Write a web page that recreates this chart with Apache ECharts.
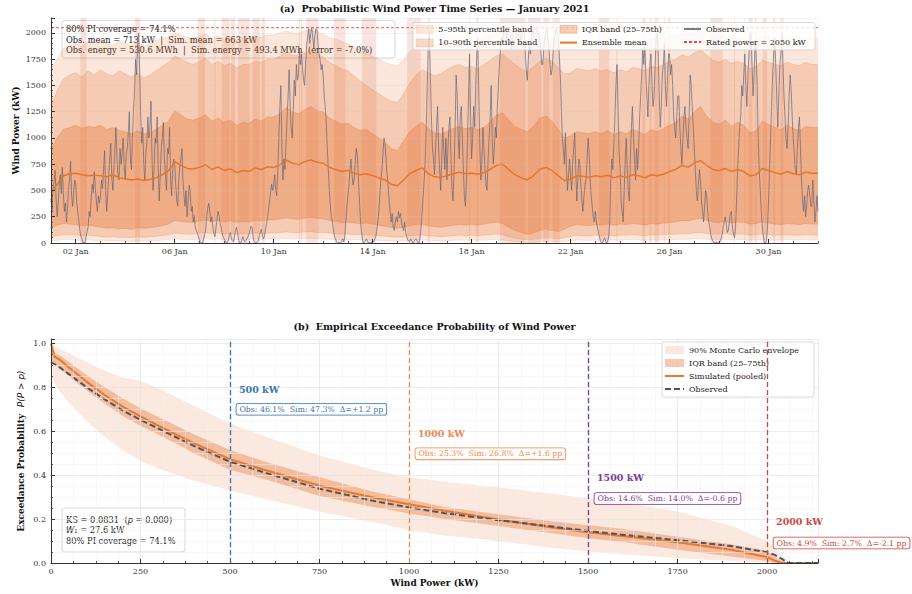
<!DOCTYPE html>
<html>
<head>
<meta charset="utf-8">
<title>Wind power – January 2021</title>
<script src="https://cdn.jsdelivr.net/npm/echarts@6/dist/echarts.min.js"></script>
<style>
  html, body { margin: 0; padding: 0; background: #ffffff; }
  #chart { width: 912px; height: 594px; }
</style>
</head>
<body>
<div id="chart"></div>
<script>
// ---------------- panel (a): January 2021 time series ----------------
const RATED_KW = 2050;
const POWER_AXIS_MAX = RATED_KW * 1.045;
const MONTH_DAYS = 31;
const OBS_STEP_H = 1;    // observed power, hourly
const BAND_STEP_H = 6;   // ensemble quantiles every 6 h

const dateTickDays = [1, 5, 9, 13, 17, 21, 25, 29];
const dateTickLabels = ['02 Jan', '06 Jan', '10 Jan', '14 Jan', '18 Jan', '22 Jan', '26 Jan', '30 Jan'];

// one row per day, 24 hourly values (kW); last entry is 1 Feb 00:00
const observedKw = [
  420, 310, 520, 580, 690, 400, 250, 380, 560, 650, 470, 720, 480, 300, 380, 200, 330, 520, 600, 780, 450, 350, 480, 600,
  560, 380, 290, 210, 120, 60, 40, 0, 10, 0, 60, 110, 150, 300, 250, 420, 560, 480, 680, 520, 400, 300, 450, 380,
  450, 600, 520, 700, 880, 500, 300, 450, 650, 800, 950, 620, 500, 700, 900, 1100, 800, 650, 600, 900, 750, 850, 1000, 720,
  600, 850, 900, 1050, 1250, 800, 700, 1000, 1250, 1450, 1750, 1600, 1900, 2000, 1650, 1200, 950, 1100, 750, 600, 850, 950, 1200, 1000,
  1100, 1350, 800, 500, 700, 1000, 950, 1200, 700, 400, 650, 900, 1000, 1150, 800, 650, 500, 900, 850, 1100, 600, 450, 700, 800,
  750, 550, 400, 350, 600, 750, 800, 900, 600, 450, 350, 500, 250, 400, 550, 500, 300, 350, 200, 260, 150, 120, 90, 60,
  30, 10, 0, 0, 40, 80, 120, 250, 330, 380, 300, 200, 250, 150, 90, 60, 140, 220, 300, 260, 190, 150, 90, 60,
  40, 20, 0, 0, 30, 70, 100, 40, 20, 10, 60, 120, 150, 90, 30, 0, 0, 20, 60, 30, 10, 20, 40, 60,
  80, 120, 160, 150, 60, 20, 0, 0, 10, 20, 70, 100, 130, 80, 40, 60, 120, 180, 250, 320, 400, 480, 560, 500,
  550, 650, 500, 450, 700, 1000, 1300, 1500, 900, 600, 800, 700, 950, 1200, 1400, 1650, 1300, 1100, 1000, 1250, 1550, 1400, 1700, 1550,
  1600, 1850, 1700, 1800, 1650, 1550, 1500, 1700, 1900, 1950, 2040, 1900, 2000, 2050, 1950, 1850, 1980, 2040, 2030, 1900, 1800, 1750, 1650, 1700,
  1600, 1400, 1300, 1150, 900, 700, 500, 350, 250, 200, 120, 60, 40, 10, 0, 0, 10, 0, 20, 40, 10, 60, 200, 350,
  450, 550, 700, 800, 650, 550, 600, 750, 900, 850, 650, 450, 250, 120, 40, 0, 10, 20, 40, 20, 0, 0, 10, 0,
  20, 10, 40, 60, 120, 200, 300, 450, 600, 700, 850, 1000, 950, 800, 650, 550, 400, 300, 200, 280, 150, 120, 200, 250,
  200, 300, 240, 280, 200, 150, 120, 200, 100, 60, 30, 20, 10, 40, 20, 0, 10, 30, 40, 20, 0, 0, 60, 150,
  300, 450, 600, 800, 1100, 1500, 1900, 2000, 1600, 1200, 900, 800, 650, 900, 1100, 1300, 900, 700, 500, 800, 1100, 900, 700, 1000,
  600, 900, 1100, 1200, 800, 500, 400, 700, 1100, 1600, 1400, 1000, 800, 1200, 1300, 1000, 700, 450, 350, 600, 1000, 1400, 1800, 1200,
  800, 1000, 1300, 1100, 1500, 1800, 1950, 1400, 900, 600, 800, 1100, 900, 700, 550, 500, 800, 1000, 1200, 1500, 1000, 750, 900, 1100,
  1000, 1300, 1500, 1700, 1850, 1950, 1900, 2000, 2040, 2000, 1950, 2030, 2020, 2050, 1900, 1850, 1950, 2040, 2040, 2000, 1950, 1950, 2030, 2000,
  1900, 1980, 2040, 2000, 1800, 1650, 1550, 1750, 1900, 1800, 1950, 2030, 1980, 2050, 2040, 2030, 1980, 2000, 1950, 1850, 1700, 1700, 1850, 1950,
  2000, 2040, 1950, 1850, 1700, 1600, 1650, 1800, 1950, 1980, 2040, 2000, 1950, 1800, 1600, 1300, 1000, 900, 750, 1050, 700, 500, 650, 800,
  650, 500, 750, 900, 1050, 700, 400, 600, 800, 750, 550, 400, 300, 450, 550, 600, 800, 1000, 850, 600, 450, 350, 250, 200,
  300, 200, 150, 100, 60, 20, 0, 0, 30, 50, 20, 0, 20, 60, 200, 600, 800, 700, 950, 1200, 1500, 1700, 1300, 900,
  700, 400, 300, 200, 500, 800, 1000, 700, 500, 400, 800, 1100, 1300, 1000, 800, 600, 900, 700, 900, 1200, 1400, 1600, 1850, 1700,
  1900, 1600, 1400, 1200, 1500, 1700, 1800, 1500, 1300, 1400, 1700, 1950, 2000, 1800, 1400, 1100, 1300, 1600, 1700, 1900, 1500, 1300, 1550, 1800,
  1800, 1600, 1700, 1500, 1200, 1100, 1000, 1200, 1400, 1400, 1100, 900, 750, 1000, 1200, 1300, 1100, 1000, 900, 1200, 1600, 1500, 1300, 1100,
  900, 700, 500, 400, 550, 700, 600, 400, 300, 200, 350, 500, 450, 300, 200, 150, 80, 40, 20, 0, 0, 10, 0, 0,
  0, 20, 40, 80, 150, 200, 250, 180, 100, 120, 200, 280, 300, 150, 80, 50, 150, 400, 700, 900, 1100, 1200, 1500, 1400,
  1600, 1800, 1500, 1300, 1600, 1800, 1950, 2000, 1700, 1400, 1600, 1900, 1800, 1500, 1000, 700, 500, 300, 150, 60, 0, 0, 20, 150,
  400, 700, 1000, 1300, 1600, 1800, 1950, 1700, 1400, 1100, 1400, 1700, 1800, 2000, 1700, 1400, 1200, 1000, 900, 1100, 1400, 1600, 1450, 1200,
  1000, 850, 700, 650, 900, 1100, 1200, 900, 600, 400, 300, 450, 250, 350, 500, 550, 450, 350, 350, 600, 400, 200, 300, 450,
  300
];

// 6-hourly ensemble statistics (kW), four per day; last entry is 1 Feb 00:00
const ensembleMeanKw = [
  480, 560, 640, 660,   665, 650, 640, 645,   640, 630, 650, 620,   615, 600, 610, 595,
  605, 620, 650, 690,   775, 740, 710, 705,   720, 745, 700, 725,   690, 705, 670, 690,
  680, 715, 700, 725,   720, 745, 790, 760,   745, 775, 790, 770,   760, 720, 700, 680,
  690, 665, 650, 660,   640, 620, 600, 560,   545, 600, 660, 690,   715, 660, 630, 625,
  640, 660, 675, 660,   665, 655, 670, 700,   740, 750, 700, 650,   620, 600, 640, 700,
  720, 690, 640, 595,   610, 640, 635, 625,   640, 630, 645, 620,   640, 625, 650, 640,
  620, 650, 640, 655,   680, 700, 740, 720,   760, 785, 740, 700,   690, 710, 680, 700,
  680, 640, 650, 710,   690, 670, 655, 680,   660, 650, 675, 665,
  665
];

const q95Kw = [
  1650, 1750, 1850, 1880,   1900, 1870, 1920, 1890,   1930, 1900, 1880, 1920,   1900, 1880, 1910, 1870,
  1900, 1930, 1950, 1960,   2000, 1980, 1960, 1950,   1970, 1990, 1950, 1970,   1940, 1960, 1930, 1950,
  1950, 1970, 1960, 1980,   1980, 2000, 2020, 2000,   2000, 2020, 2030, 2010,   1990, 1960, 1940, 1920,
  1900, 1870, 1830, 1800,   1780, 1750, 1720, 1700,   1690, 1750, 1820, 1880,   1920, 1900, 1880, 1900,
  1930, 1950, 1960, 1940,   1950, 1930, 1960, 1980,   2000, 2010, 1980, 1950,   1920, 1900, 1930, 1960,
  1980, 1960, 1920, 1880,   1890, 1920, 1910, 1900,   1920, 1900, 1910, 1890,   1910, 1900, 1930, 1920,
  1900, 1940, 1930, 1950,   1970, 1980, 2000, 1990,   2020, 2030, 2000, 1980,   1960, 1980, 1950, 1960,
  1950, 1920, 1930, 1970,   1960, 1950, 1940, 1960,   1950, 1940, 1960, 1950,
  1950
];

const q90Kw = [
  1300, 1450, 1560, 1600,   1620, 1580, 1640, 1600,   1650, 1610, 1590, 1640,   1610, 1580, 1620, 1570,
  1600, 1640, 1680, 1720,   1780, 1750, 1720, 1700,   1730, 1760, 1700, 1730,   1690, 1710, 1670, 1700,
  1700, 1730, 1720, 1750,   1750, 1780, 1820, 1790,   1780, 1810, 1830, 1800,   1770, 1720, 1690, 1660,
  1640, 1590, 1540, 1500,   1460, 1420, 1380, 1350,   1340, 1420, 1520, 1600,   1650, 1620, 1590, 1610,
  1650, 1680, 1700, 1670,   1680, 1660, 1700, 1740,   1780, 1800, 1750, 1700,   1660, 1630, 1680, 1730,
  1760, 1730, 1670, 1610,   1620, 1660, 1650, 1640,   1660, 1640, 1650, 1620,   1650, 1630, 1670, 1660,
  1640, 1680, 1670, 1700,   1730, 1750, 1790, 1770,   1810, 1840, 1790, 1740,   1720, 1750, 1710, 1730,
  1710, 1660, 1680, 1740,   1720, 1700, 1690, 1720,   1700, 1690, 1720, 1700,
  1700
];

const q75Kw = [
  900, 1000, 1080, 1100,   1120, 1090, 1110, 1100,   1120, 1080, 1100, 1070,   1060, 1040, 1070, 1040,
  1050, 1080, 1120, 1160,   1260, 1220, 1180, 1170,   1190, 1220, 1160, 1190,   1150, 1170, 1120, 1150,
  1140, 1180, 1160, 1200,   1200, 1230, 1290, 1250,   1230, 1270, 1300, 1260,   1250, 1190, 1160, 1130,
  1140, 1100, 1070, 1080,   1040, 1000, 960, 900,     880, 970, 1060, 1110,    1150, 1090, 1050, 1040,
  1060, 1090, 1110, 1090,   1100, 1080, 1100, 1150,   1220, 1240, 1170, 1110,   1080, 1060, 1110, 1190,
  1210, 1160, 1080, 1000,   1020, 1060, 1050, 1040,   1060, 1040, 1070, 1030,   1060, 1040, 1080, 1060,
  1030, 1080, 1060, 1090,   1120, 1150, 1210, 1180,   1250, 1300, 1210, 1150,   1130, 1170, 1110, 1150,
  1120, 1050, 1070, 1160,   1130, 1100, 1080, 1120,   1090, 1070, 1110, 1100,
  1100
];

const q25Kw = [
  150, 170, 185, 180,   175, 165, 170, 160,   150, 140, 145, 135,   140, 130, 145, 140,
  145, 155, 165, 180,   215, 205, 200, 195,   210, 220, 205, 215,   200, 210, 195, 205,
  200, 215, 210, 220,   220, 230, 240, 230,   225, 235, 245, 235,   230, 215, 205, 195,
  200, 190, 185, 190,   180, 170, 160, 150,   140, 150, 165, 175,   180, 165, 155, 150,
  160, 170, 175, 170,   175, 170, 180, 190,   200, 185, 150, 120,   100, 80, 95, 120,
  130, 120, 110, 130,   160, 175, 170, 165,   175, 170, 180, 170,   180, 175, 185, 180,
  170, 185, 180, 190,   195, 200, 215, 210,   225, 235, 215, 200,   195, 205, 190, 200,
  195, 180, 185, 200,   190, 180, 175, 185,   180, 175, 185, 180,
  180
];

const q10Kw = [
  60, 70, 80, 80,     75, 70, 75, 70,     60, 55, 60, 55,     55, 50, 60, 55,
  60, 65, 70, 80,     95, 90, 85, 85,     95, 100, 90, 95,    85, 90, 85, 90,
  85, 95, 90, 95,     95, 100, 105, 100,  100, 105, 110, 100, 100, 95, 90, 85,
  85, 80, 80, 80,     75, 70, 65, 60,     55, 60, 70, 75,     75, 70, 65, 60,
  65, 70, 75, 70,     75, 70, 75, 80,     85, 80, 60, 45,     35, 30, 35, 45,
  50, 45, 40, 50,     65, 75, 70, 70,     75, 70, 75, 70,     75, 75, 80, 75,
  70, 80, 75, 80,     85, 85, 90, 90,     95, 100, 90, 85,    85, 90, 80, 85,
  85, 75, 80, 85,     80, 75, 75, 80,     75, 75, 80, 75,
  75
];

const q05Kw = [
  20, 25, 30, 30,   28, 25, 28, 25,   20, 18, 20, 18,   18, 15, 20, 18,
  20, 22, 25, 30,   38, 35, 32, 32,   38, 40, 35, 38,   32, 35, 32, 35,
  32, 38, 35, 38,   38, 40, 42, 40,   40, 42, 45, 40,   40, 36, 34, 32,
  32, 30, 30, 30,   28, 25, 22, 20,   18, 20, 25, 28,   28, 25, 22, 20,
  22, 25, 28, 25,   28, 25, 28, 30,   32, 30, 20, 12,   8, 5, 8, 12,
  15, 12, 10, 15,   22, 28, 25, 25,   28, 25, 28, 25,   28, 28, 30, 28,
  25, 30, 28, 30,   32, 32, 35, 35,   38, 40, 35, 32,   32, 35, 30, 32,
  32, 28, 30, 32,   30, 28, 28, 30,   28, 28, 30, 28,
  28
];

const summaryLinesA = [
  '80% PI coverage = 74.1%',
  'Obs. mean = 713 kW  |  Sim. mean = 663 kW',
  'Obs. energy = 530.6 MWh  |  Sim. energy = 493.4 MWh  (error = -7.0%)'
];

// ---------------- panel (b): exceedance curves ----------------
const excGridKw = [0, 10, 25, 50, 100, 150, 200, 250, 300, 400, 500, 600, 750, 900, 1000,
                   1100, 1250, 1400, 1500, 1600, 1750, 1900, 2000, 2020, 2040, 2060, 2100, 2142];
const excObserved = [0.915, 0.905, 0.89, 0.86, 0.80, 0.745, 0.695, 0.652, 0.612, 0.532, 0.461, 0.41, 0.338, 0.283, 0.253,
                     0.227, 0.195, 0.166, 0.146, 0.128, 0.104, 0.077, 0.049, 0.038, 0.02, 0.0, 0.0, 0.0];
const excSimulated = [1.0, 0.94, 0.925, 0.89, 0.825, 0.765, 0.712, 0.668, 0.626, 0.545, 0.473, 0.422, 0.352, 0.298, 0.268,
                      0.238, 0.198, 0.162, 0.140, 0.122, 0.094, 0.06, 0.027, 0.012, 0.0, 0.0, 0.0, 0.0];
const excEnvHigh = [1.0, 0.99, 0.975, 0.955, 0.915, 0.875, 0.845, 0.83, 0.795, 0.715, 0.635, 0.575, 0.49, 0.425, 0.39,
                    0.37, 0.345, 0.315, 0.295, 0.275, 0.235, 0.17, 0.10, 0.07, 0.035, 0.0, 0.0, 0.0];
const excEnvLow = [0.86, 0.82, 0.78, 0.73, 0.645, 0.575, 0.515, 0.465, 0.43, 0.375, 0.33, 0.29, 0.235, 0.185, 0.15,
                   0.125, 0.10, 0.07, 0.052, 0.04, 0.022, 0.01, 0.003, 0.0, 0.0, 0.0, 0.0, 0.0];
const excIqrHigh = [1.0, 0.96, 0.945, 0.915, 0.855, 0.80, 0.75, 0.705, 0.665, 0.585, 0.515, 0.46, 0.39, 0.325, 0.29,
                    0.255, 0.222, 0.19, 0.172, 0.155, 0.12, 0.085, 0.055, 0.03, 0.01, 0.0, 0.0, 0.0];
const excIqrLow = [0.93, 0.905, 0.885, 0.85, 0.785, 0.725, 0.67, 0.625, 0.585, 0.50, 0.425, 0.38, 0.305, 0.255, 0.225,
                   0.20, 0.168, 0.135, 0.113, 0.095, 0.06, 0.03, 0.01, 0.0, 0.0, 0.0, 0.0, 0.0];

const thresholdsKw = [500, 1000, 1500, 2000];
const thrObsPct = [46.1, 25.3, 14.6, 4.9];
const thrSimPct = [47.3, 26.8, 14.0, 2.7];
const thrDeltaPp = [1.2, 1.6, -0.6, -2.1];
const thrColors = ['#3b74b0', '#ec8a4e', '#7d3a98', '#c84a40'];

const statsLinesB = ['KS = 0.0831', '27.6 kW', '80% PI coverage = 74.1%'];

// ---------------- styling ----------------
const SERIF = "'DejaVu Serif', serif";
const SANS = "'DejaVu Sans', sans-serif";
const AXIS_COLOR = '#333333';
const ORANGE = '232,121,58';
const rgba = (rgb, a) => `rgba(${rgb},${a})`;
const ZW = '\u200b'; // keeps panel-(b) legend names distinct from panel (a)

const obsDay = i => i * OBS_STEP_H / 24;
const bandDay = j => j * BAND_STEP_H / 24;

// hours where the observation falls outside the 10–90 % interval, merged into runs
const missRuns = [];
(function () {
  let start = null;
  const half = OBS_STEP_H / 48;
  observedKw.forEach((v, i) => {
    const j = Math.min(q10Kw.length - 1, Math.floor(i * OBS_STEP_H / BAND_STEP_H));
    const out = v < q10Kw[j] || v > q90Kw[j];
    const t = obsDay(i);
    if (out && start === null) start = Math.max(0, t - half);
    if (!out && start !== null) { missRuns.push([start, t - half]); start = null; }
  });
  if (start !== null) missRuns.push([start, MONTH_DAYS]);
})();

// filled band between two quantile curves, drawn as one polygon through the axis scales
function bandSeries(name, low, high, xOf, fill, edge, xi, yi, z) {
  return {
    name, type: 'custom', xAxisIndex: xi, yAxisIndex: yi, silent: true, z, clip: true,
    data: [[xOf(0), high[0]]],
    itemStyle: { color: fill },
    renderItem: (params, api) => {
      const top = high.map((v, i) => api.coord([xOf(i), v]));
      const bot = low.map((v, i) => api.coord([xOf(i), v]));
      const children = [{ type: 'polygon', shape: { points: top.concat(bot.slice().reverse()) },
                          style: { fill: fill, stroke: null } }];
      if (edge) {
        children.push({ type: 'polyline', shape: { points: top }, style: { stroke: edge, lineWidth: 0.7, fill: null } });
        children.push({ type: 'polyline', shape: { points: bot }, style: { stroke: edge, lineWidth: 0.7, fill: null } });
      }
      return { type: 'group', children };
    }
  };
}

const FILL95 = rgba(ORANGE, 0.18), EDGE95 = rgba(ORANGE, 0.22);
const FILL90 = rgba(ORANGE, 0.25), EDGE90 = rgba(ORANGE, 0.35);
const FILL50 = rgba(ORANGE, 0.38), EDGE50 = rgba(ORANGE, 0.5);
const STRIPE = 'rgba(205,75,50,0.15)';
const MEAN_COLOR = '#e6762c';
const OBS_COLOR = 'rgba(95,100,118,0.85)';
const RATED_COLOR = '#dc4b43';

const ENV_FILL = rgba(ORANGE, 0.16);
const IQR_FILL = rgba(ORANGE, 0.40);
const SIM_COLOR = '#e8772f';
const OBS_B_COLOR = '#4a5568';

const tickFont = { fontFamily: SERIF, fontSize: 8, color: AXIS_COLOR };
const noSymbolIcon = { opacity: 0 };

const series = [];

// panel (a)
series.push({
  name: 'miss', type: 'custom', xAxisIndex: 0, yAxisIndex: 0, silent: true, z: 1, clip: true,
  data: missRuns, encode: { x: [0, 1] },
  renderItem: (params, api) => {
    const a = api.coord([api.value(0), POWER_AXIS_MAX]);
    const b = api.coord([api.value(1), 0]);
    return { type: 'rect', shape: { x: a[0], y: a[1], width: b[0] - a[0], height: b[1] - a[1] },
             style: { fill: STRIPE } };
  }
});
series.push(bandSeries('5–95th percentile band', q05Kw, q95Kw, bandDay, FILL95, EDGE95, 0, 0, 1.1));
series.push(bandSeries('10–90th percentile band', q10Kw, q90Kw, bandDay, FILL90, EDGE90, 0, 0, 1.2));
series.push(bandSeries('IQR band (25–75th)', q25Kw, q75Kw, bandDay, FILL50, EDGE50, 0, 0, 1.3));
series.push({
  name: 'Observed', type: 'line', xAxisIndex: 0, yAxisIndex: 0, symbol: 'none', silent: true, z: 1.5,
  data: observedKw.map((v, i) => [obsDay(i), v]),
  lineStyle: { color: OBS_COLOR, width: 0.8 }, itemStyle: { color: OBS_COLOR }
});
series.push({
  name: 'Ensemble mean', type: 'line', xAxisIndex: 0, yAxisIndex: 0, symbol: 'none', silent: true, z: 1.6,
  data: ensembleMeanKw.map((v, j) => [bandDay(j), v]),
  lineStyle: { color: MEAN_COLOR, width: 1.5 }, itemStyle: { color: MEAN_COLOR }
});
series.push({
  name: 'Rated power = 2050 kW', type: 'line', xAxisIndex: 0, yAxisIndex: 0, symbol: 'none', silent: true, z: 1.6,
  data: [[0, RATED_KW], [MONTH_DAYS, RATED_KW]],
  lineStyle: { color: RATED_COLOR, width: 0.9, type: [3, 2] }, itemStyle: { color: RATED_COLOR }
});

// panel (b)
series.push(bandSeries('90% Monte Carlo envelope', excEnvLow, excEnvHigh, i => excGridKw[i], ENV_FILL, null, 2, 1, 1.1));
series.push(bandSeries('IQR band (25–75th)' + ZW, excIqrLow, excIqrHigh, i => excGridKw[i], IQR_FILL, null, 2, 1, 1.2));

const thrMarkLines = thresholdsKw.map((t, k) => ({
  xAxis: t, lineStyle: { color: thrColors[k], width: 1.3, type: [5, 3] }
}));
const fmtSigned = v => (v >= 0 ? '+' : '') + v.toFixed(1);
const thrMarkPoints = [];
thresholdsKw.forEach((t, k) => {
  thrMarkPoints.push({
    coord: [t + 25, 0.79 - 0.201 * k], symbolSize: 0,
    label: { show: true, position: 'right', distance: 0, formatter: t + ' kW',
             color: thrColors[k], fontFamily: SERIF, fontWeight: 'bold', fontSize: 9.5 }
  });
  thrMarkPoints.push({
    coord: [t + 18, 0.70 - 0.203 * k], symbolSize: 0,
    label: { show: true, position: 'right', distance: 0,
             formatter: `Obs: ${thrObsPct[k].toFixed(1)}%  Sim: ${thrSimPct[k].toFixed(1)}%  Δ=${fmtSigned(thrDeltaPp[k])} pp`,
             color: thrColors[k], fontFamily: SERIF, fontSize: 7.8,
             backgroundColor: 'rgba(255,255,255,0.92)', borderColor: thrColors[k], borderWidth: 0.8,
             borderRadius: 2, padding: [2, 3, 1, 3] }
  });
});
series.push({
  name: 'thresholds', type: 'line', xAxisIndex: 2, yAxisIndex: 1, symbol: 'none', silent: true, z: 1.4,
  data: [],
  markLine: { silent: true, symbol: 'none', label: { show: false }, data: thrMarkLines, animation: false },
  markPoint: { silent: true, symbol: 'rect', data: thrMarkPoints, animation: false }
});
series.push({
  name: 'Simulated (pooled)', type: 'line', xAxisIndex: 2, yAxisIndex: 1, symbol: 'none', silent: true, z: 1.5,
  data: excSimulated.map((v, i) => [excGridKw[i], v]),
  lineStyle: { color: SIM_COLOR, width: 2 }, itemStyle: { color: SIM_COLOR }
});
series.push({
  name: 'Observed' + ZW, type: 'line', xAxisIndex: 2, yAxisIndex: 1, symbol: 'none', silent: true, z: 1.6,
  data: excObserved.map((v, i) => [excGridKw[i], v]),
  lineStyle: { color: OBS_B_COLOR, width: 2, type: [6, 3] }, itemStyle: { color: OBS_B_COLOR }
});

const allDays = [];
for (let d = 0; d <= MONTH_DAYS; d++) allDays.push(d);

const legendBase = {
  orient: 'vertical', itemWidth: 17, itemHeight: 8, itemGap: 5, padding: 0, z: 5,
  textStyle: { fontFamily: SERIF, fontSize: 8, color: '#222' }, selectedMode: false
};

const option = {
  animation: false,
  backgroundColor: '#ffffff',
  grid: [
    { left: 51, top: 18, width: 767, height: 225, outerBoundsMode: 'none' },
    { left: 51, top: 339, width: 767, height: 224, outerBoundsMode: 'none' }
  ],
  xAxis: [
    {
      type: 'value', gridIndex: 0, min: 0, max: MONTH_DAYS, z: 2,
      axisLine: { show: true, onZero: false, lineStyle: { color: AXIS_COLOR, width: 1 } },
      axisTick: { show: true, inside: true, length: 4, customValues: dateTickDays, lineStyle: { color: AXIS_COLOR } },
      axisLabel: { show: true, customValues: dateTickDays, margin: 4, ...tickFont,
                   formatter: v => dateTickLabels[dateTickDays.indexOf(Math.round(v))] || '' },
      splitLine: { show: false }
    },
    {
      type: 'value', gridIndex: 0, min: 0, max: MONTH_DAYS, position: 'bottom', z: 2,
      axisLine: { show: false },
      axisTick: { show: true, inside: true, length: 2, customValues: allDays, lineStyle: { color: AXIS_COLOR, width: 0.8 } },
      axisLabel: { show: false }, splitLine: { show: false }
    },
    {
      type: 'value', gridIndex: 1, min: 0, max: POWER_AXIS_MAX, interval: 250, z: 2,
      name: 'Wind Power (kW)', nameLocation: 'middle', nameGap: 15, nameMoveOverlap: false,
      nameTextStyle: { fontFamily: SERIF, fontWeight: 'bold', fontSize: 9, color: '#111' },
      axisLine: { show: true, onZero: false, lineStyle: { color: AXIS_COLOR, width: 1 } },
      axisTick: { show: true, inside: true, length: 4, lineStyle: { color: AXIS_COLOR } },
      minorTick: { show: true, splitNumber: 4, length: 2, lineStyle: { color: AXIS_COLOR, width: 0.8 } },
      axisLabel: { margin: 4, ...tickFont, formatter: v => (v % 250 === 0 && v <= 2000 ? String(v) : '') },
      splitLine: { show: true, lineStyle: { color: '#e4e4e4', width: 0.7 } },
      minorSplitLine: { show: true, lineStyle: { color: '#f1f1f1', width: 0.5 } }
    }
  ],
  yAxis: [
    {
      type: 'value', gridIndex: 0, min: 0, max: POWER_AXIS_MAX, interval: 250, z: 2,
      name: 'Wind Power (kW)', nameLocation: 'middle', nameGap: 31, nameRotate: 90, nameMoveOverlap: false,
      nameTextStyle: { fontFamily: SERIF, fontWeight: 'bold', fontSize: 9, color: '#111' },
      axisLine: { show: true, onZero: false, lineStyle: { color: AXIS_COLOR, width: 1 } },
      axisTick: { show: true, inside: true, length: 4, lineStyle: { color: AXIS_COLOR } },
      minorTick: { show: true, splitNumber: 5, length: 2, lineStyle: { color: AXIS_COLOR, width: 0.8 } },
      axisLabel: { margin: 5, ...tickFont, formatter: v => (v % 250 === 0 && v <= 2000 ? String(v) : '') },
      splitLine: { show: true, lineStyle: { color: 'rgba(200,200,200,0.35)', width: 0.6 } }
    },
    {
      type: 'value', gridIndex: 1, min: 0, max: 1.02, interval: 0.2, z: 2,
      name: '{b|Exceedance Probability}  {i|P(P > p)}', nameLocation: 'middle', nameGap: 24, nameRotate: 90,
      nameMoveOverlap: false,
      nameTextStyle: {
        rich: {
          b: { fontFamily: SERIF, fontWeight: 'bold', fontSize: 9, color: '#111' },
          i: { fontFamily: SANS, fontStyle: 'italic', fontSize: 9, color: '#111' }
        }
      },
      axisLine: { show: true, onZero: false, lineStyle: { color: AXIS_COLOR, width: 1 } },
      axisTick: { show: true, inside: true, length: 4, lineStyle: { color: AXIS_COLOR } },
      minorTick: { show: true, splitNumber: 4, length: 2, lineStyle: { color: AXIS_COLOR, width: 0.8 } },
      axisLabel: { margin: 5, ...tickFont, formatter: v => (v <= 1.0001 ? v.toFixed(1) : '') },
      splitLine: { show: true, lineStyle: { color: '#e4e4e4', width: 0.7 } },
      minorSplitLine: { show: true, lineStyle: { color: '#f1f1f1', width: 0.5 } }
    }
  ],
  legend: [
    { ...legendBase, left: 416, top: 25,
      data: [
        { name: '5–95th percentile band', icon: 'rect', itemStyle: { color: FILL95, borderColor: EDGE95, borderWidth: 0.6 } },
        { name: '10–90th percentile band', icon: 'rect', itemStyle: { color: FILL90, borderColor: EDGE90, borderWidth: 0.6 } }
      ] },
    { ...legendBase, left: 559, top: 25,
      data: [
        { name: 'IQR band (25–75th)', icon: 'rect', itemStyle: { color: FILL50, borderColor: EDGE50, borderWidth: 0.6 } },
        { name: 'Ensemble mean', itemStyle: noSymbolIcon }
      ] },
    { ...legendBase, left: 683, top: 25,
      data: [ { name: 'Observed', itemStyle: noSymbolIcon }, { name: 'Rated power = 2050 kW', itemStyle: noSymbolIcon } ] },
    { ...legendBase, left: 664, top: 346, itemWidth: 19,
      data: [
        { name: '90% Monte Carlo envelope', icon: 'rect', itemStyle: { color: ENV_FILL } },
        { name: 'IQR band (25–75th)' + ZW, icon: 'rect', itemStyle: { color: IQR_FILL } },
        { name: 'Simulated (pooled)', itemStyle: noSymbolIcon },
        { name: 'Observed' + ZW, itemStyle: noSymbolIcon }
      ] }
  ],
  graphic: [
    { type: 'text', x: 434.5, y: 8, z: 10,
      style: { text: '(a)  Probabilistic Wind Power Time Series — January 2021', fontFamily: SERIF,
               fontWeight: 'bold', fontSize: 9.5, fill: '#111', align: 'center', verticalAlign: 'middle' } },
    { type: 'text', x: 434.5, y: 326, z: 10,
      style: { text: '(b)  Empirical Exceedance Probability of Wind Power', fontFamily: SERIF,
               fontWeight: 'bold', fontSize: 9.5, fill: '#111', align: 'center', verticalAlign: 'middle' } },
    // legend frames
    { type: 'rect', z: 3, shape: { x: 413, y: 22.5, width: 402, height: 27.5, r: 2 },
      style: { fill: 'rgba(255,255,255,0.8)', stroke: '#d0d0d0', lineWidth: 0.8 } },
    { type: 'rect', z: 3, shape: { x: 662, y: 342, width: 152, height: 55, r: 2 },
      style: { fill: 'rgba(255,255,255,0.8)', stroke: '#d0d0d0', lineWidth: 0.8 } },
    // summary box, panel (a)
    { type: 'group', z: 6, children: [
      { type: 'rect', shape: { x: 62, y: 20.5, width: 333, height: 37.5, r: 3 },
        style: { fill: 'rgba(255,255,255,0.85)', stroke: '#cccccc', lineWidth: 0.8 } },
      ...summaryLinesA.map((t, k) => ({
        type: 'text', x: 66, y: 29.4 + 10.1 * k,
        style: { text: t, fontFamily: SERIF, fontSize: 8.3, fill: '#222', align: 'left', verticalAlign: 'middle' }
      }))
    ] },
    // statistics box, panel (b)
    { type: 'group', z: 6, children: [
      { type: 'rect', shape: { x: 62, y: 508, width: 123, height: 44, r: 3 },
        style: { fill: 'rgba(255,255,255,0.85)', stroke: '#cccccc', lineWidth: 0.8 } },
      { type: 'text', x: 66, y: 519.5,
        style: { text: '{n|' + statsLinesB[0] + '  (}{i|p}{n| = 0.000)}', align: 'left', verticalAlign: 'middle',
                 rich: { n: { fontFamily: SERIF, fontSize: 8.3, fill: '#222' },
                         i: { fontFamily: SANS, fontStyle: 'italic', fontSize: 8.3, fill: '#222' } } } },
      { type: 'text', x: 66, y: 530,
        style: { text: '{i|W}{n|₁ = ' + statsLinesB[1] + '}', align: 'left', verticalAlign: 'middle',
                 rich: { n: { fontFamily: SERIF, fontSize: 8.3, fill: '#222' },
                         i: { fontFamily: SANS, fontStyle: 'italic', fontSize: 8.3, fill: '#222' } } } },
      { type: 'text', x: 66, y: 540.5,
        style: { text: statsLinesB[2], fontFamily: SERIF, fontSize: 8.3, fill: '#222', align: 'left', verticalAlign: 'middle' } }
    ] }
  ],
  series
};

const chart = echarts.init(document.getElementById('chart'), null, { renderer: 'svg', width: 912, height: 594 });
chart.setOption(option);
</script>
</body>
</html>
